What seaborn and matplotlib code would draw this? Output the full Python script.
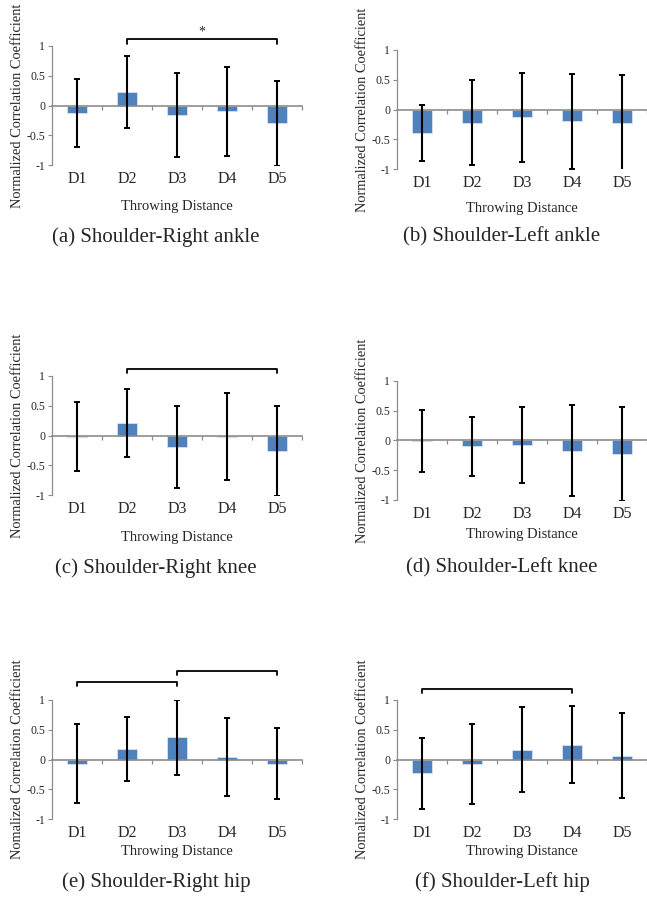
import numpy as np
import pandas as pd
import seaborn as sns
import matplotlib.pyplot as plt

# values
distances = ["D1", "D2", "D3", "D4", "D5"]

r_ankle_mean = [-0.12, 0.23, -0.155, -0.095, -0.30]
r_ankle_sd = [0.57, 0.60, 0.705, 0.75, 0.71]
l_ankle_mean = [-0.40, -0.22, -0.13, -0.195, -0.23]
l_ankle_sd = [0.47, 0.71, 0.75, 0.80, 0.81]
r_knee_mean = [-0.02, 0.21, -0.19, -0.02, -0.26]
r_knee_sd = [0.58, 0.575, 0.69, 0.73, 0.75]
l_knee_mean = [-0.01, -0.10, -0.075, -0.17, -0.235]
l_knee_sd = [0.515, 0.50, 0.64, 0.76, 0.79]
r_hip_mean = [-0.07, 0.18, 0.37, 0.045, -0.07]
r_hip_sd = [0.66, 0.54, 0.625, 0.66, 0.60]
l_hip_mean = [-0.235, -0.08, 0.165, 0.25, 0.065]
l_hip_sd = [0.595, 0.67, 0.715, 0.65, 0.72]

# significance brackets: (from index, to index, height, mark)
r_ankle_brackets = [(1, 4, 1.11, "*")]
r_knee_brackets = [(1, 4, 1.12, "")]
r_hip_brackets = [(0, 2, 1.31, ""), (2, 4, 1.49, "")]
l_hip_brackets = [(0, 3, 1.18, "")]

captions = ["(a) Shoulder-Right ankle", "(b) Shoulder-Left ankle",
            "(c) Shoulder-Right knee", "(d) Shoulder-Left knee",
            "(e) Shoulder-Right hip", "(f) Shoulder-Left hip"]

sns.set_style("white")
plt.rcParams["font.family"] = ["Liberation Serif", "DejaVu Serif"]

W, H = 647, 899
fig = plt.figure(figsize=(W / 100, H / 100), dpi=100)

BAR = "#4F81BD"
AXC = "#8C8C8C"

panels = [
    # left px, top px, bottom px, means, sds, brackets, ylabel, xlabel y, caption x, caption y
    (52, 46, 165, r_ankle_mean, r_ankle_sd, r_ankle_brackets, "Normalized Correlation Coefficient", -0.35, 156, 237),
    (397, 50, 169, l_ankle_mean, l_ankle_sd, [], "Normalized Correlation Coefficient", -0.33, 502, 237),
    (52, 376, 495, r_knee_mean, r_knee_sd, r_knee_brackets, "Normalized Correlation Coefficient", -0.36, 156, 568),
    (397, 381, 500, l_knee_mean, l_knee_sd, [], "Normalized Correlation Coefficient", -0.29, 502, 568),
    (52, 700, 819, r_hip_mean, r_hip_sd, r_hip_brackets, "Nomalized Correlation Coefficient", -0.27, 156, 882),
    (397, 700, 819, l_hip_mean, l_hip_sd, l_hip_brackets, "Nomalized Correlation Coefficient", -0.27, 502, 882),
]

for i, (lx, top, bot, means, sds, brackets, ylab, xly, cx, cy) in enumerate(panels):
    ax = fig.add_axes([lx / W, 1 - bot / H, 250 / W, (bot - top) / H])
    df = pd.DataFrame({"dist": distances, "r": means})
    sns.barplot(data=df, x="dist", y="r", color=BAR, width=0.4, ax=ax,
                errorbar=None, edgecolor="#D9E2F0", linewidth=0.6, saturation=1)
    pos = np.arange(len(distances))
    ax.errorbar(pos, means, yerr=sds, fmt="none", ecolor="black",
                elinewidth=1.5, capsize=2, capthick=1.4, zorder=3)

    ax.set_xlim(-0.5, len(distances) - 0.5)
    ax.set_ylim(-1, 1)
    ax.set_yticks([-1, -0.5, 0, 0.5, 1])
    ax.set_yticklabels(["-1", "-0.5", "0", "0.5", "1"], fontsize=8.5)
    ax.tick_params(axis="y", length=3, width=0.8, color=AXC, pad=2, left=True)

    # horizontal axis crosses at zero, ticks at category boundaries
    for s in ["top", "right"]:
        ax.spines[s].set_visible(False)
    ax.spines["left"].set_color(AXC)
    ax.spines["left"].set_linewidth(0.9)
    ax.spines["bottom"].set_position(("data", 0))
    ax.spines["bottom"].set_color(AXC)
    ax.spines["bottom"].set_linewidth(1.2)
    ax.spines["bottom"].set_zorder(2)
    ax.set_xticks(pos + 0.5)
    ax.set_xticklabels([])
    ax.tick_params(axis="x", length=3, width=0.9, color=AXC, bottom=True)

    sec = ax.secondary_xaxis("bottom")
    sec.set_xticks(pos)
    sec.set_xticklabels(distances, fontsize=11.5)
    sec.tick_params(length=0, pad=4.5)
    sec.spines["bottom"].set_visible(False)

    ax.set_xlabel("Throwing Distance", fontsize=10.5)
    ax.xaxis.label.set_va("center")
    ax.xaxis.set_label_coords(0.5, xly)
    ax.set_ylabel(ylab, fontsize=10.4)
    ax.yaxis.set_label_coords(-0.112, 0.5)

    for a, b, h, mark in brackets:
        ax.plot([a, a, b, b], [h - 0.07, h, h, h - 0.07], color="black",
                lw=1.3, clip_on=False)
        if mark:
            ax.text((a + b) / 2, h + 0.02, mark, ha="center", va="bottom",
                    fontsize=10, clip_on=False)

    fig.text(cx / W, 1 - cy / H, captions[i], ha="center", va="center", fontsize=15)

fig.savefig("out.png", dpi=100)
